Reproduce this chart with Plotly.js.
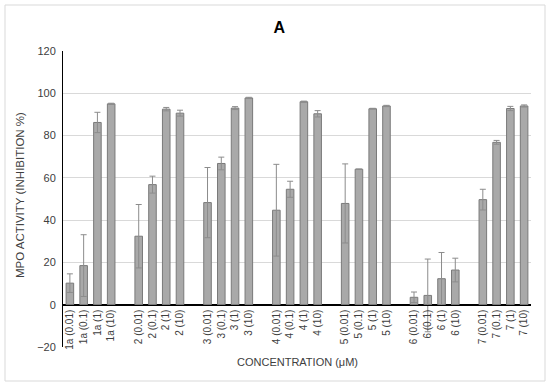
<!DOCTYPE html>
<html>
<head>
<meta charset="utf-8">
<script src="https://cdn.plot.ly/plotly-3.0.1.min.js"></script>
<style>html,body{margin:0;padding:0;background:#fff}#chart{width:550px;height:387px}</style>
</head>
<body>
<div id="chart"></div>
<script>
// Data
const compounds = ["1a", "2", "3", "4", "5", "6", "7"];
const concentrations = ["0.01", "0.1", "1", "10"];
const inhibition = [
  10.2, 18.5, 86.2, 95.0,   // 1a
  32.4, 56.8, 92.5, 90.6,   // 2
  48.3, 66.8, 93.0, 97.8,   // 3
  44.7, 54.6, 96.0, 90.3,   // 4
  47.9, 64.1, 92.7, 94.0,   // 5
  3.5, 4.4, 12.3, 16.4,     // 6
  49.7, 76.8, 92.8, 94.0    // 7
];
const errors = [
  4.4, 14.6, 4.8, 0.3,
  15.0, 4.0, 0.8, 1.4,
  16.6, 3.0, 0.7, 0.3,
  21.7, 3.8, 0.3, 1.5,
  18.7, 0.0, 0.2, 0.3,
  2.5, 17.2, 12.4, 5.6,
  4.9, 0.9, 1.0, 0.5
];

// Build category labels and the category order with empty slots between groups
const labels = [];
const order = [];
compounds.forEach((c, gi) => {
  concentrations.forEach(k => {
    const lab = c + " (" + k + ")";
    labels.push(lab);
    order.push(lab);
  });
  if (gi < compounds.length - 1) order.push("gap" + (gi + 1));
});

const trace = {
  type: "bar",
  x: labels,
  y: inhibition,
  marker: {color: "#a9a9a9", line: {color: "#7a7a7a", width: 1}},
  error_y: {type: "data", array: errors, visible: true, color: "#8c8c8c", thickness: 1, width: 3},
  hoverinfo: "x+y"
};

const fontFam = "Liberation Sans, Arial, sans-serif";
const layout = {
  width: 550, height: 387,
  margin: {l: 63, r: 19, t: 51, b: 40},
  paper_bgcolor: "#ffffff", plot_bgcolor: "#ffffff",
  showlegend: false,
  bargap: 0.45,
  font: {family: fontFam, color: "#404040", size: 11},
  title: {text: "<b>A</b>", font: {family: fontFam, size: 16, color: "#000"},
          xref: "container", x: 0.508, xanchor: "center", yref: "container", y: 0.928, yanchor: "middle"},
  xaxis: {
    type: "category", categoryorder: "array", categoryarray: order,
    tickmode: "array", tickvals: labels, ticktext: labels,
    anchor: "free", position: 20 / 140,
    showline: true, linecolor: "#000", linewidth: 1,
    ticks: "", tickangle: -90, showgrid: false, zeroline: false,
    tickfont: {family: fontFam, size: 10, color: "#404040"},
    automargin: false, fixedrange: true
  },
  yaxis: {
    range: [-20, 120], dtick: 20, tick0: 0,
    showline: true, linecolor: "#000", linewidth: 1,
    showgrid: true, gridcolor: "#d9d9d9", gridwidth: 1,
    zeroline: true, zerolinecolor: "#000", zerolinewidth: 1,
    ticks: "", ticklabelstandoff: 4,
    tickfont: {family: fontFam, size: 11, color: "#404040"},
    automargin: false, fixedrange: true
  },
  annotations: [
    {text: "MPO ACTIVITY (INHIBITION %)", textangle: -90, xref: "paper", yref: "paper",
     x: (20 - 63) / 468, y: 0.5 + 4 / 296, xanchor: "center", yanchor: "middle", showarrow: false,
     font: {family: fontFam, size: 11.5, color: "#404040"}},
    {text: "CONCENTRATION (\u03bcM)", xref: "paper", yref: "paper",
     x: 0.5, y: (347 - 362) / 296, xanchor: "center", yanchor: "middle", showarrow: false,
     font: {family: fontFam, size: 11, color: "#404040"}}
  ],
  shapes: [
    {type: "rect", xref: "paper", yref: "paper",
     x0: (5 - 63) / 468, x1: (545 - 63) / 468, y0: (347 - 381) / 296, y1: (347 - 5) / 296,
     line: {color: "#d9d9d9", width: 1}, fillcolor: "rgba(0,0,0,0)", layer: "below"}
  ]
};

Plotly.newPlot("chart", [trace], layout, {displayModeBar: false, staticPlot: true});
</script>
</body>
</html>
